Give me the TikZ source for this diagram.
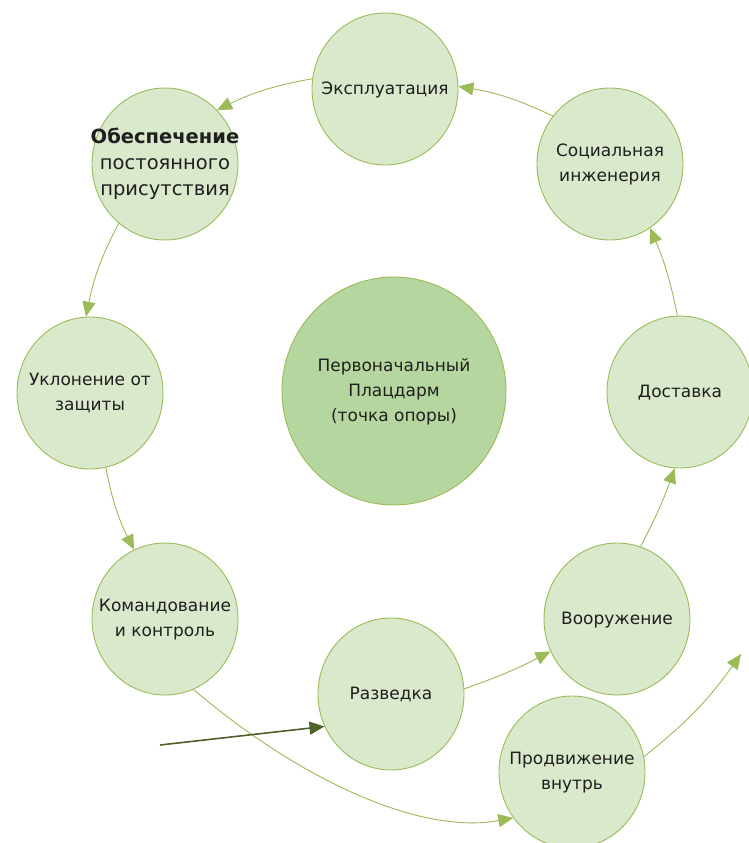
\documentclass[tikz,border=0pt]{standalone}
\usepackage{fontspec}
\setmainfont{DejaVu Sans}
\usetikzlibrary{shapes.geometric,arrows.meta}
\definecolor{nodefill}{HTML}{DAE8CC}
\definecolor{hubfill}{HTML}{B6D6A0}
\definecolor{rim}{HTML}{9BBB59}
\definecolor{flow}{HTML}{9BBB59}
\definecolor{entry}{HTML}{4F6228}
% centred caption that does not widen the ellipse around it
\newcommand{\stagetext}[1]{\makebox[0pt]{\begin{tabular}{@{}c@{}}#1\end{tabular}}}
\tikzset{
  stage/.style={ellipse, draw=rim, fill=nodefill, line width=0.9pt,
    minimum width=146pt, minimum height=152pt, inner sep=0pt,
    font=\fontsize{17}{25}\selectfont, text=black!88},
  bigstage/.style={stage, font=\fontsize{19.5}{26}\selectfont},
  hub/.style={stage, fill=hubfill, minimum width=224pt, minimum height=228pt},
  link/.style={draw=flow, line width=0.9pt,
    -{Triangle[length=15pt,width=13pt]}},
  entrylink/.style={draw=entry, line width=1.6pt,
    -{Triangle[length=15pt,width=13pt]}}
}
\begin{document}
\begin{tikzpicture}[x=1pt,y=-1pt]
\useasboundingbox (0,0) rectangle (749,843);

\node[hub]   (hub)  at (394,391) {\stagetext{Первоначальный\\Плацдарм\\(точка опоры)}};
\node[stage] (expl) at (385,89)  {\stagetext{Эксплуатация}};
\node[bigstage] (pres) at (165,164) {\stagetext{\textbf{Обеспечение}\\постоянного\\присутствия}};
\node[stage] (soc)  at (610,164) {\stagetext{Социальная\\инженерия}};
\node[stage] (evad) at (90,393)  {\stagetext{Уклонение от\\защиты}};
\node[stage] (deli) at (680,392) {\stagetext{Доставка}};
\node[stage] (cmd)  at (165,619) {\stagetext{Командование\\и контроль}};
\node[stage] (arm)  at (617,619) {\stagetext{Вооружение}};
\node[stage] (rec)  at (391,694) {\stagetext{Разведка}};
\node[stage] (adv)  at (572,772) {\stagetext{Продвижение\\внутрь}};

\coordinate (start) at (160,745);
\coordinate (onward) at (741,654);

\draw[link] (soc.140) to[bend right=8] (expl.2);
\draw[link] (expl.172) to[bend right=8] (pres.46);
\draw[link] (pres.232) to[bend right=8] (evad.93);
\draw[link] (evad.282) to[bend right=8] (cmd.114);
\draw[link] (cmd.292) .. controls (300,780) and (420,835) .. (adv.218);
\draw[entrylink] (start) -- (rec.206);
\draw[link] (rec.4) to[bend right=4] (arm.206);
\draw[link] (arm.72) to[bend right=4] (deli.266);
\draw[link] (deli.92) to[bend right=6] (soc.302);
\draw[link] (adv.12) to[bend right=8] (onward);
\end{tikzpicture}
\end{document}
